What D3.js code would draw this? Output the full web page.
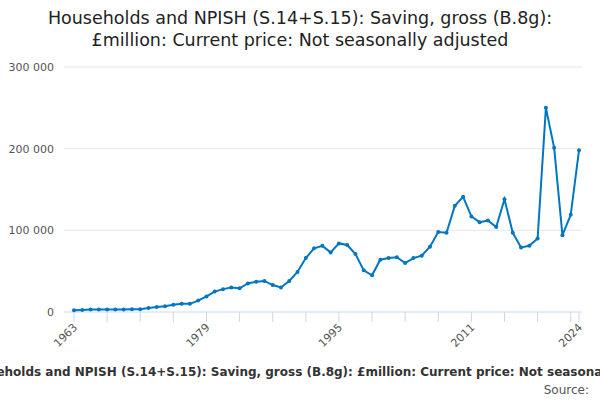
<html>
<head>
  <script src="https://d3js.org/d3.v7.min.js"></script>
  <style>
    body { margin: 0; font-family: "DejaVu Sans", sans-serif; }
    .axis text { font-size: 11px; fill: #555; }
  </style>
</head>
<body>
  <svg id="chart" width="600" height="400"></svg>
  <script>
    const years = d3.range(1963, 2025);
    const values = [2, 2.5, 3, 3, 3, 3, 3, 3.5, 3.5, 5, 6, 7, 9, 10, 10, 14, 19, 25, 28, 30,
      29, 35, 37, 38, 33, 30, 38, 49, 66, 78, 81, 73, 84, 82, 71, 51, 45, 64, 66, 67,
      60, 66, 69, 80, 98, 97, 130, 141, 117, 110, 112, 104, 138, 97, 79, 81, 90, 250, 201, 94,
      119, 198].map(v => v * 1000);
    const yTicks = [0, 100000, 200000, 300000];
    const xLabels = [1963, 1979, 1995, 2011, 2024];

    const svg = d3.select("svg#chart");
    const margin = { left: 74, right: 21, top: 67, bottom: 88 };
    const x = d3.scaleLinear().domain([1963, 2024]).range([margin.left, 600 - margin.right]);
    const y = d3.scaleLinear().domain([0, 300000]).range([400 - margin.bottom, margin.top]);

    // title
    const title = svg.append("text").attr("x", 300).attr("y", 24)
      .attr("text-anchor", "middle").attr("font-size", "17.5px").attr("fill", "#222");
    title.append("tspan").attr("x", 300).text("Households and NPISH (S.14+S.15): Saving, gross (B.8g):");
    title.append("tspan").attr("x", 300).attr("dy", 22).text("£million: Current price: Not seasonally adjusted");

    // gridlines
    svg.append("g").selectAll("line").data(yTicks).enter().append("line")
      .attr("x1", margin.left - 10).attr("x2", 600 - margin.right + 3)
      .attr("y1", d => y(d)).attr("y2", d => y(d))
      .attr("stroke", d => d === 0 ? "#ccd6eb" : "#e6e6e6");

    svg.append("g").attr("class", "axis").selectAll("text").data(yTicks).enter().append("text")
      .attr("x", margin.left - 20).attr("y", d => y(d) + 4).attr("text-anchor", "end")
      .text(d => d3.format(",")(d).replace(/,/g, " "));

    // x axis ticks
    const tickYears = d3.range(1963, 2024, 4).concat([2024]);
    svg.append("g").selectAll("line").data(tickYears).enter().append("line")
      .attr("x1", d => x(d)).attr("x2", d => x(d))
      .attr("y1", y(0)).attr("y2", y(0) + 10).attr("stroke", "#ccd6eb");

    svg.append("g").attr("class", "axis").selectAll("text").data(xLabels).enter().append("text")
      .attr("text-anchor", "end")
      .attr("transform", d => `translate(${x(d) + 4},${y(0) + 16}) rotate(-45)`)
      .text(d => d);

    // line
    const data = years.map((yr, i) => ({ yr, v: values[i] }));
    svg.append("path").datum(data)
      .attr("d", d3.line().x(d => x(d.yr)).y(d => y(d.v)))
      .attr("fill", "none").attr("stroke", "#0076c0").attr("stroke-width", 2);
    svg.append("g").selectAll("circle").data(data).enter().append("circle")
      .attr("cx", d => x(d.yr)).attr("cy", d => y(d.v)).attr("r", 2).attr("fill", "#0076c0");

    // footer
    svg.append("text").attr("x", 322).attr("y", 376).attr("text-anchor", "middle")
      .attr("font-size", "12px").attr("font-weight", "bold").attr("fill", "#333")
      .text("Households and NPISH (S.14+S.15): Saving, gross (B.8g): £million: Current price: Not seasonally adjusted");
    svg.append("text").attr("x", 589).attr("y", 394).attr("text-anchor", "end")
      .attr("font-size", "12px").attr("fill", "#555").text("Source:");
  </script>
</body>
</html>
